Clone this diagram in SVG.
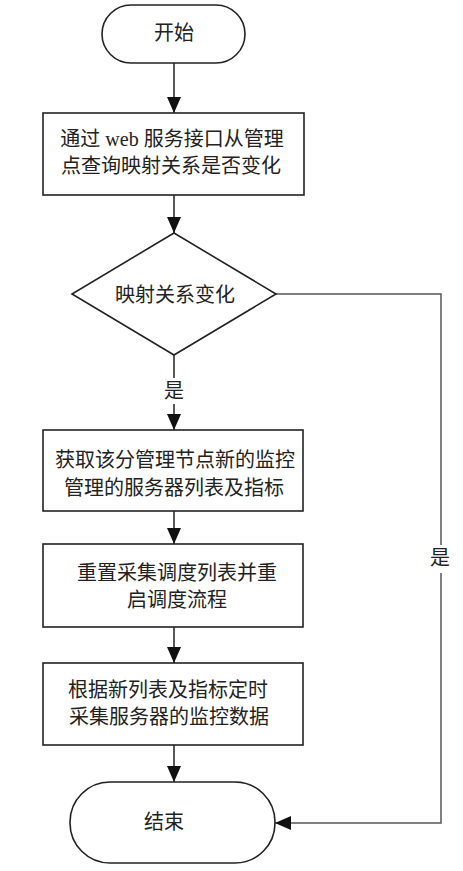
<svg xmlns="http://www.w3.org/2000/svg" width="463" height="871" viewBox="0 0 463 871">
<style>
.shape{fill:#fff;stroke:#222;stroke-width:1.6}
.t{font-family:"Liberation Serif","Noto Sans CJK SC",serif;font-size:20px;fill:#222;text-anchor:middle;dominant-baseline:central}
.c{fill:none;stroke:#222;stroke-width:1.5}
.g{fill:none;stroke:#555;stroke-width:1.5}
</style>
<defs>
<marker id="ah" markerUnits="userSpaceOnUse" markerWidth="16" markerHeight="14" refX="16" refY="7" orient="auto">
<path d="M0,0 L16,7 L0,14 z" fill="#111"/>
</marker>
</defs>
<rect width="463" height="871" fill="#fff"/>
<g id="connectors">
<line class="c" x1="174" y1="63" x2="174" y2="113" marker-end="url(#ah)"/>
<line class="c" x1="174" y1="195" x2="174" y2="233" marker-end="url(#ah)"/>
<line class="c" x1="174" y1="355" x2="174" y2="378"/>
<line class="c" x1="174" y1="404" x2="174" y2="430" marker-end="url(#ah)"/>
<line class="c" x1="174" y1="511" x2="174" y2="544" marker-end="url(#ah)"/>
<line class="c" x1="174" y1="627" x2="174" y2="663" marker-end="url(#ah)"/>
<line class="c" x1="174" y1="745" x2="174" y2="782" marker-end="url(#ah)"/>
<polyline class="g" points="276,294 441,294 441,545"/>
<polyline class="g" points="441,573 441,823 275,823" marker-end="url(#ah)"/>
<text class="t" x="174" y="391">是</text>
<text class="t" x="440" y="558">是</text>
</g>
<g id="start">
<rect class="shape" x="102" y="5" width="143" height="58" rx="29" ry="29"/>
<text class="t" x="174" y="33">开始</text>
</g>
<g id="query">
<rect class="shape" x="43" y="113" width="261" height="82"/>
<text class="t" x="172" y="139">通过 web 服务接口从管理</text>
<text class="t" x="171" y="166">点查询映射关系是否变化</text>
</g>
<g id="decision">
<polygon class="shape" points="174,233 276,294 174,355 72,294"/>
<text class="t" x="175" y="295">映射关系变化</text>
</g>
<g id="fetch">
<rect class="shape" x="43" y="430" width="260" height="81"/>
<text class="t" x="175" y="460">获取该分管理节点新的监控</text>
<text class="t" x="174" y="488">管理的服务器列表及指标</text>
</g>
<g id="reset">
<rect class="shape" x="43" y="544" width="260" height="83"/>
<text class="t" x="177" y="573">重置采集调度列表并重</text>
<text class="t" x="177" y="600">启调度流程</text>
</g>
<g id="collect">
<rect class="shape" x="43" y="663" width="260" height="82"/>
<text class="t" x="168" y="690">根据新列表及指标定时</text>
<text class="t" x="169" y="717">采集服务器的监控数据</text>
</g>
<g id="end">
<rect class="shape" x="70" y="782" width="205" height="81" rx="40" ry="40"/>
<text class="t" x="164" y="822">结束</text>
</g>
</svg>
